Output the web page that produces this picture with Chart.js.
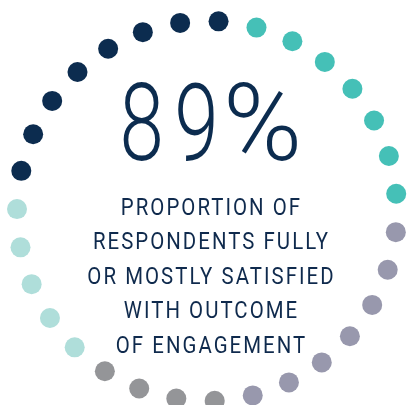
<!DOCTYPE html>
<html>
<head>
<meta charset="utf-8">
<script src="https://cdn.jsdelivr.net/npm/chart.js@4.4.0/dist/chart.umd.min.js"></script>
<style>
  html, body { margin: 0; padding: 0; background: #fff; }
  #wrap { position: relative; width: 407px; height: 405px; overflow: hidden; }
  #ring { position: absolute; left: 0; top: 0; }
  .headline {
    position: absolute; left: 11px; width: 407px; top: 69px;
    text-align: center; font-family: Roboto, sans-serif; font-weight: 300;
    font-size: 108px; line-height: 108px; color: #0c2c4f;
    letter-spacing: 14px; transform: scaleX(0.74);
    white-space: nowrap;
  }
  .headline .pct {
    display: inline-block; transform: scaleX(1.34); transform-origin: left center;
    margin-left: -8px; margin-right: 23px;
  }
  .caption {
    position: absolute; left: 8px; width: 407px; top: 190px;
    text-align: center; font-family: Roboto, sans-serif; font-weight: 400;
    font-size: 24px; line-height: 34.4px; color: #0f2a4d;
    letter-spacing: 2.4px; transform: scaleX(0.85);
  }
</style>
</head>
<body>
<div id="wrap">
  <canvas id="ring" width="407" height="405"></canvas>
  <div class="headline" id="headline"></div>
  <div class="caption" id="caption"></div>
</div>
<script>
// ring segments, clockwise from the first teal dot
const segmentNames = ['Teal', 'Slate', 'Grey', 'Light teal', 'Navy'];
const segmentDots = [7, 7, 4, 5, 8];
const segmentColors = ['#45c0b7', '#9898ad', '#949598', '#afdeda', '#0c2c4f'];
const ringValue = 1;

const headlineValue = '89';
const headlineUnit = '%';
const captionLines = [
    'PROPORTION OF',
    'RESPONDENTS FULLY',
    'OR MOSTLY SATISFIED',
    'WITH OUTCOME',
    'OF ENGAGEMENT'
];

// headline: number + wider percent sign
const head = document.getElementById('headline');
const num = document.createElement('span');
num.textContent = headlineValue;
const pct = document.createElement('span');
pct.className = 'pct';
pct.textContent = headlineUnit;
head.appendChild(num);
head.appendChild(pct);

document.getElementById('caption').innerHTML = captionLines.join('<br>');

// one label / value / colour per dot
const labels = [];
const values = [];
const colors = [];
segmentNames.forEach(function(name, i) {
    for (let k = 0; k < segmentDots[i]; k++) {
        labels.push(name);
        values.push(ringValue);
        colors.push(segmentColors[i]);
    }
});

new Chart(document.getElementById('ring'), {
    type: 'radar',
    data: {
        labels: labels,
        datasets: [{
            data: values,
            showLine: false,
            fill: false,
            borderWidth: 0,
            backgroundColor: 'transparent',
            pointBackgroundColor: colors,
            pointBorderWidth: 0,
            pointRadius: 10,
            pointHoverRadius: 10,
            clip: false
        }]
    },
    options: {
        responsive: false,
        animation: false,
        layout: {
            padding: { left: 17, right: 10, top: 21, bottom: 4 }
        },
        plugins: {
            legend: { display: false },
            tooltip: { enabled: false }
        },
        scales: {
            r: {
                display: false,
                min: 0,
                max: 1,
                startAngle: 15.1
            }
        }
    }
});
</script>
</body>
</html>
